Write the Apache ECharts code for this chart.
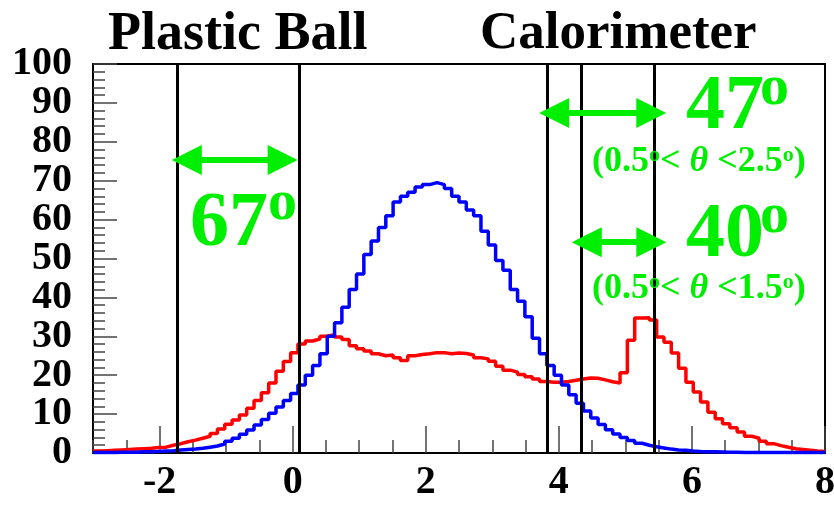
<!DOCTYPE html>
<html>
<head>
<meta charset="utf-8">
<title>Plastic Ball / Calorimeter</title>
<script src="https://cdn.jsdelivr.net/npm/echarts@6/dist/echarts.min.js"></script>
<style>
html,body{margin:0;padding:0;background:#fff;}
#chart{width:834px;height:505px;}
</style>
</head>
<body>
<div id="chart"></div>
<script>
// histogram range, 100 bins
var xMin = -3;
var xMax = 8;

var blueCounts = [
    0.1,0.1,0.1,0.2,0.2,0.2,0.3,0.3,0.4,0.5,
    0.6,0.8,0.9,1.0,1.2,1.5,1.8,2.3,3.0,3.8,
    4.8,5.9,7.2,8.6,10.2,11.8,13.5,15.3,17.5,20.0,
    22.5,25.5,30.0,33.5,37.5,42.0,46.0,51.0,54.5,58.0,
    61.0,64.5,66.0,67.0,68.4,69.0,69.5,69.0,68.0,66.0,
    64.5,62.5,61.0,57.0,53.5,49.5,47.0,42.0,39.0,35.0,
    29.5,25.5,22.5,20.0,17.5,15.0,12.8,10.8,9.0,7.3,
    6.0,4.9,4.0,3.2,2.5,2.0,1.6,1.3,1.0,0.8,
    0.7,0.5,0.4,0.35,0.3,0.25,0.2,0.2,0.15,0.15,
    0.1,0.1,0.1,0.1,0.1,0.1,0.1,0.1,0.1,0.1
];
var redCounts = [
    0.5,0.6,0.7,0.8,0.9,1.0,1.1,1.2,1.4,1.5,
    2.0,2.4,2.9,3.3,3.8,4.3,5.0,6.2,7.4,8.5,
    9.8,11.5,13.5,15.5,18.0,21.0,23.5,25.8,28.0,28.8,
    29.3,30.0,30.4,29.8,29.2,27.6,26.8,26.2,25.5,25.0,
    25.2,24.5,23.8,25.0,25.3,25.5,25.8,25.8,25.5,25.7,
    25.6,25.2,24.5,24.2,23.6,22.3,21.3,20.8,20.2,19.6,
    19.0,18.4,18.2,18.2,18.4,18.7,19.0,19.3,19.2,18.8,
    18.3,18.0,20.6,29.0,34.7,34.8,34.2,29.8,28.5,25.7,
    21.8,18.2,15.7,13.1,10.5,8.8,7.5,6.5,5.4,4.3,
    3.8,3.0,2.4,1.9,1.5,1.1,0.9,0.7,0.5,0.4
];

// acceptance boundaries (vertical lines)
var cutLines = [-1.74, 0.10, 3.83, 4.34, 5.43];
// double arrows: [from x, to x, y]
var arrows = [[-1.59, -0.15, 75.3], [3.93, 5.39, 87.4], [4.42, 5.39, 54.2]];

var xMajor = [-2, 0, 2, 4, 6, 8];
var yMajor = [0, 10, 20, 30, 40, 50, 60, 70, 80, 90, 100];
// labels split over two axes so the big font is not dropped as overlapping
var yLabelsEven = [0, 20, 40, 60, 80, 100];
var yLabelsOdd = [10, 30, 50, 70, 90];

var serif = '"Liberation Serif", "Times New Roman", serif';
var green = '#00ee00';

function toSteps(counts){
    var w = (xMax-xMin)/counts.length;
    var pts = [];
    for(var i=0;i<counts.length;i++){
        pts.push([xMin+i*w, counts[i]]);
    }
    pts.push([xMax, counts[counts.length-1]]);
    return pts;
}

var chart = echarts.init(document.getElementById('chart'));

var arrowData = [];
for(var k=0;k<arrows.length;k++){
    arrowData.push([{coord:[arrows[k][0], arrows[k][2]]},{coord:[arrows[k][1], arrows[k][2]]}]);
}
var cutData = [];
for(var j=0;j<cutLines.length;j++){
    cutData.push({xAxis: cutLines[j]});
}

var yLabelStyle = {color: '#000', fontFamily: serif, fontWeight: 'bold', fontSize: 40, margin: 21, hideOverlap: false};

var subRich = {
    s: {fontSize: 22, fontWeight: 'bold', fontFamily: serif, fill: green, color: green, verticalAlign: 'top'},
    t: {fontSize: 36, fontWeight: 'bold', fontStyle: 'italic', fontFamily: serif, fill: green, color: green}
};

var option = {
    backgroundColor: '#fff',
    animation: false,
    grid: {
        left: 93, right: 9, top: 64, bottom: 52,
        show: true, borderColor: '#000', borderWidth: 2,
        outerBoundsMode: 'none'
    },
    xAxis: [
        {
            type: 'value', min: xMin, max: xMax,
            axisLine: {onZero: false, lineStyle: {color: '#000', width: 2}},
            axisTick: {inside: true, length: 27, customValues: xMajor, lineStyle: {color: '#444', width: 1.5}},
            axisLabel: {customValues: xMajor, color: '#000', fontFamily: serif, fontWeight: 'bold', fontSize: 40, margin: 10},
            splitLine: {show: false}
        },
        {
            type: 'value', min: xMin, max: xMax, interval: 0.5, position: 'bottom',
            axisLine: {show: false, onZero: false},
            axisTick: {inside: true, length: 13, lineStyle: {color: '#444', width: 1.5}},
            axisLabel: {show: false},
            splitLine: {show: false}
        }
    ],
    yAxis: [
        {
            type: 'value', min: 0, max: 100,
            axisLine: {show: true, onZero: false, lineStyle: {color: '#000', width: 2}},
            axisTick: {show: true, inside: true, length: 24, customValues: yMajor, lineStyle: {color: '#444', width: 1.5}},
            axisLabel: Object.assign({customValues: yLabelsEven}, yLabelStyle),
            splitLine: {show: false}
        },
        {
            type: 'value', min: 0, max: 100, interval: 2, position: 'left',
            axisLine: {show: false, onZero: false},
            axisTick: {show: true, inside: true, length: 12, lineStyle: {color: '#444', width: 1.5}},
            axisLabel: {show: false},
            splitLine: {show: false}
        },
        {
            type: 'value', min: 0, max: 100, position: 'left',
            axisLine: {show: false, onZero: false},
            axisTick: {show: false},
            axisLabel: Object.assign({customValues: yLabelsOdd}, yLabelStyle),
            splitLine: {show: false}
        }
    ],
    series: [
        {
            type: 'line', step: 'end', showSymbol: false, z: 3,
            data: toSteps(redCounts),
            lineStyle: {color: '#ff0000', width: 3.5},
            markLine: {
                silent: true, symbol: 'none', animation: false,
                label: {show: false},
                lineStyle: {color: '#000', width: 3, type: 'solid'},
                data: cutData
            }
        },
        {
            type: 'line', step: 'end', showSymbol: false, z: 4,
            data: toSteps(blueCounts),
            lineStyle: {color: '#0000ff', width: 3.5}
        },
        {
            type: 'line', data: [], z: 6,
            markLine: {
                silent: true, symbol: ['triangle', 'triangle'], symbolSize: [30, 30], animation: false,
                label: {show: false},
                lineStyle: {color: green, width: 6, type: 'solid'},
                itemStyle: {color: green},
                data: arrowData
            }
        }
    ],
    graphic: [
        {type: 'text', left: 108, top: 8, style: {text: 'Plastic Ball', font: 'bold 54px ' + serif, fill: '#000'}},
        {type: 'text', left: 480, top: 8, style: {text: 'Calorimeter', font: 'bold 53px ' + serif, fill: '#000'}},

        {type: 'text', left: 190, top: 186, z: 10, style: {text: '67', font: 'bold 78px ' + serif, fill: green}},
        {type: 'text', left: 268, top: 175, z: 10, style: {text: 'o', font: 'bold 58px ' + serif, fill: green}},

        {type: 'text', left: 686, top: 69, z: 10, style: {text: '47', font: 'bold 78px ' + serif, fill: green}},
        {type: 'text', left: 760, top: 60, z: 10, style: {text: 'o', font: 'bold 58px ' + serif, fill: green}},
        {type: 'text', left: 592, top: 144, z: 10, style: {
            text: '(0.5{s|o}< {t|θ} <2.5{s|o})', font: 'bold 36px ' + serif, fill: green, rich: subRich
        }},

        {type: 'text', left: 686, top: 197, z: 10, style: {text: '40', font: 'bold 78px ' + serif, fill: green}},
        {type: 'text', left: 760, top: 188, z: 10, style: {text: 'o', font: 'bold 58px ' + serif, fill: green}},
        {type: 'text', left: 592, top: 271, z: 10, style: {
            text: '(0.5{s|o}< {t|θ} <1.5{s|o})', font: 'bold 36px ' + serif, fill: green, rich: subRich
        }}
    ]
};

chart.setOption(option);
</script>
</body>
</html>
